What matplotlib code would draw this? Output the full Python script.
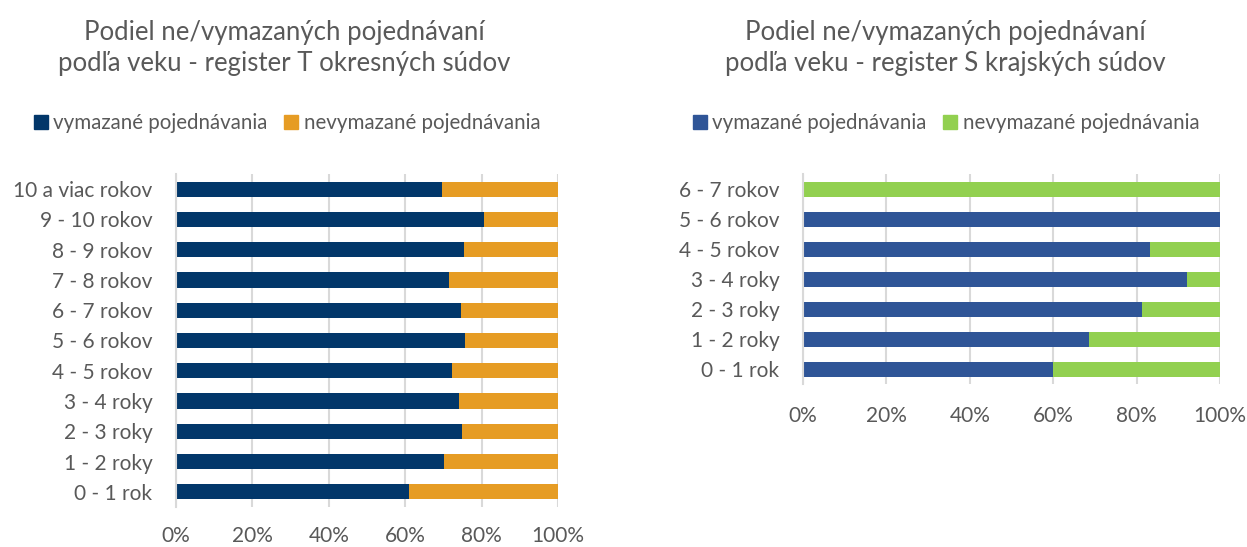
import matplotlib.pyplot as plt
from matplotlib.patches import Patch
from matplotlib.ticker import PercentFormatter

plt.rcParams['font.family'] = ['Lato', 'DejaVu Sans']

# register T okresných súdov
cats_t = ['0 - 1 rok', '1 - 2 roky', '2 - 3 roky', '3 - 4 roky', '4 - 5 rokov',
          '5 - 6 rokov', '6 - 7 rokov', '7 - 8 rokov', '8 - 9 rokov',
          '9 - 10 rokov', '10 a viac rokov']
vym_t = [0.610, 0.701, 0.749, 0.742, 0.723, 0.756, 0.747, 0.714, 0.754, 0.806, 0.6955]

# register S krajských súdov
cats_s = ['0 - 1 rok', '1 - 2 roky', '2 - 3 roky', '3 - 4 roky', '4 - 5 rokov',
          '5 - 6 rokov', '6 - 7 rokov']
vym_s = [0.600, 0.685, 0.812, 0.920, 0.833, 1.0, 0.0]

legend_labels = ['vymazané pojednávania', 'nevymazané pojednávania']
xticks = [0, 0.2, 0.4, 0.6, 0.8, 1.0]

TXT = '#595959'
GRID = '#D9D9D9'

fig = plt.figure(figsize=(12.47, 5.47), dpi=100)
ax1 = fig.add_axes([176/1247, 1-507/547, 382/1247, 333/547])
ax2 = fig.add_axes([803/1247, 1-384/547, 417/1247, 210/547])


def draw(ax, cats, vym, c1, c2, xpad):
    nev = [1 - v for v in vym]
    ax.barh(cats, vym, height=0.5, color=c1, edgecolor='none')
    ax.barh(cats, nev, left=vym, height=0.5, color=c2, edgecolor='none')
    ax.set_xlim(0, 1)
    ax.set_ylim(-0.5, len(cats) - 0.5)
    ax.set_xticks(xticks)
    ax.xaxis.set_major_formatter(PercentFormatter(1.0, decimals=0))
    ax.grid(axis='x', color=GRID, linewidth=1.5)
    ax.set_axisbelow(True)
    for s in ['top', 'right', 'bottom']:
        ax.spines[s].set_visible(False)
    ax.spines['left'].set_color(GRID)
    ax.spines['left'].set_linewidth(1.5)
    ax.tick_params(length=0, labelsize=15, labelcolor=TXT)
    ax.tick_params(axis='y', pad=17)
    ax.tick_params(axis='x', pad=xpad)


draw(ax1, cats_t, vym_t, '#02376A', '#E69C24', 14)
draw(ax2, cats_s, vym_s, '#2F5597', '#92D050', 16)

fig.text(284/1247, 1-48/547, 'Podiel ne/vymazaných pojednávaní\npodľa veku - register T okresných súdov',
         ha='center', va='center', fontsize=18.5, color=TXT, linespacing=1.3)
fig.text(945/1247, 1-48/547, 'Podiel ne/vymazaných pojednávaní\npodľa veku - register S krajských súdov',
         ha='center', va='center', fontsize=18.5, color=TXT, linespacing=1.3)

for x, cols in [(287, ('#02376A', '#E69C24')), (946, ('#2F5597', '#92D050'))]:
    handles = [Patch(color=cols[0], label=legend_labels[0]),
               Patch(color=cols[1], label=legend_labels[1])]
    fig.legend(handles=handles, loc='center', bbox_to_anchor=(x/1247, 1-123/547),
               ncol=2, frameon=False, fontsize=14.8, labelcolor=TXT,
               handlelength=0.7, handleheight=0.7, handletextpad=0.25,
               columnspacing=0.8)

fig.savefig('out.png', dpi=100, facecolor='white')
